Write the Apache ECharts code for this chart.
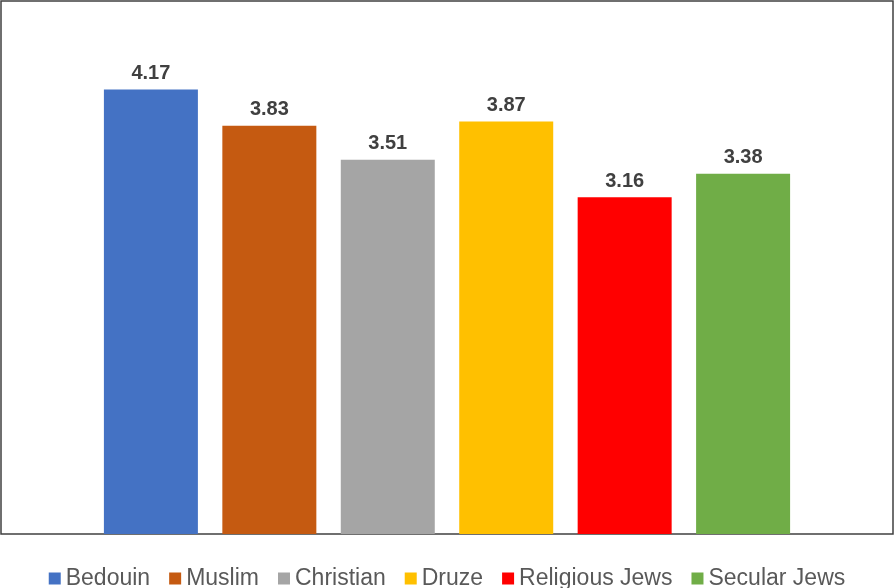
<!DOCTYPE html>
<html>
<head>
<meta charset="utf-8">
<script src="https://cdn.jsdelivr.net/npm/echarts@6/dist/echarts.min.js"></script>
<style>
  html, body { margin: 0; padding: 0; background: #fff; }
  #chart { width: 894px; height: 588px; }
</style>
</head>
<body>
<div id="chart"></div>
<script>
// groups and their mean scores
const groups = ['Bedouin', 'Muslim', 'Christian', 'Druze', 'Religious Jews', 'Secular Jews'];
const scores = [4.17, 3.83, 3.51, 3.87, 3.16, 3.38];
const colors = ['#4472C4', '#C55A11', '#A5A5A5', '#FFC000', '#FF0000', '#70AD47'];

const chart = echarts.init(document.getElementById('chart'));

chart.setOption({
  animation: false,
  grid: {
    left: 1,
    right: 1,
    top: 1,
    bottom: 54,
    show: true,
    borderColor: '#404040',
    borderWidth: 1.5,
  },
  legend: {
    top: 562,
    itemWidth: 12,
    itemHeight: 12,
    itemGap: 19,
    icon: 'rect',
    textStyle: {
      fontFamily: 'Liberation Sans, Arial, sans-serif',
      fontSize: 23,
      color: '#595959',
    },
    data: groups,
  },
  xAxis: {
    type: 'category',
    data: [''],
    axisLine: { show: false },
    axisTick: { show: false },
    axisLabel: { show: false },
  },
  yAxis: {
    type: 'value',
    min: 0,
    max: 5,
    show: false,
    splitLine: { show: false },
  },
  series: groups.map((name, i) => {
    return {
      name,
      type: 'bar',
      data: [scores[i]],
      barWidth: 94,
      barGap: '26%',
      itemStyle: { color: colors[i] },
      label: {
        show: true,
        position: 'top',
        distance: 6,
        fontFamily: 'Liberation Sans, Arial, sans-serif',
        fontWeight: 'bold',
        fontSize: 20,
        color: '#404040',
        formatter: ({ value }) => value.toFixed(2),
      },
    };
  }),
});
</script>
</body>
</html>
